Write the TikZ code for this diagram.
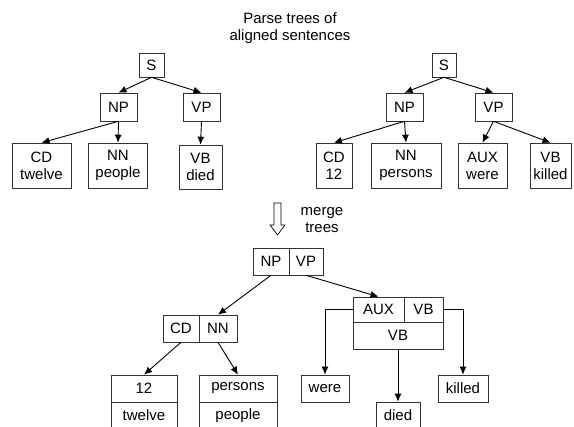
\documentclass[tikz,border=0pt]{standalone}
\usepackage{fontspec}
\setmainfont{Liberation Sans}
\usetikzlibrary{arrows.meta}
\tikzset{box/.style={draw=black!80, line width=0.6pt, inner sep=0pt, align=center, font=\fontsize{15}{17}\selectfont}}
\tikzset{label/.style={align=center, inner sep=0pt, font=\fontsize{15}{17}\selectfont}}

\begin{document}
\begin{tikzpicture}[x=1pt, y=-1pt, >={Latex[length=8pt,width=7pt]}, line width=0.9pt]
		\useasboundingbox (0,0) rectangle (574,427);
		\clip (0,0) rectangle (574,427);
		\node[label] (title) at (290,28) {Parse trees of\\aligned sentences};
		% first sentence
		\node[box, minimum width=25pt, minimum height=24pt] (S1) at (151.5,65) {S};
		\node[box, minimum width=37pt, minimum height=28pt] (NP1) at (118.5,107) {NP};
		\node[box, minimum width=37pt, minimum height=28pt] (VP1) at (201.5,107) {VP};
		\node[box, minimum width=59pt, minimum height=45pt] (CD1) at (41.5,165.5) {CD\\twelve};
		\node[box, minimum width=59pt, minimum height=45pt] (NN1) at (118,165.5) {NN\\people};
		\node[box, minimum width=43pt, minimum height=44pt] (VB1) at (200.5,167) {VB\\died};
		\path [->] (S1.south) edge (NP1.north);
		\path [->] (S1.south) edge (VP1.north);
		\path [->] (NP1.south) edge (CD1.north);
		\path [->] (NP1.south) edge (NN1.north);
		\path [->] (VP1.south) edge (VB1.north);
		% second sentence
		\node[box, minimum width=24pt, minimum height=24pt] (S2) at (444,65) {S};
		\node[box, minimum width=37pt, minimum height=28pt] (NP2) at (404.5,107) {NP};
		\node[box, minimum width=37pt, minimum height=28pt] (VP2) at (493.5,107) {VP};
		\node[box, minimum width=36pt, minimum height=45pt] (CD2) at (334,165.5) {CD\\12};
		\node[box, minimum width=70pt, minimum height=45pt] (NN2) at (406,165.5) {NN\\persons};
		\node[box, minimum width=49pt, minimum height=45pt] (AUX2) at (482.5,165.5) {AUX\\were};
		\node[box, minimum width=41pt, minimum height=45pt] (VB2) at (550.5,165.5) {VB\\killed};
		\path [->] (S2.south) edge (NP2.north);
		\path [->] (S2.south) edge (VP2.north);
		\path [->] (NP2.south) edge (CD2.north);
		\path [->] (NP2.south) edge (NN2.north);
		\path [->] (VP2.south) edge (AUX2.north);
		\path [->] (VP2.south) edge (VB2.north);
		% merge step
		\draw[line width=0.7pt] (274,203) -- (281,203) -- (281,225) -- (285,225) -- (277.5,235) -- (270,225) -- (274,225) -- cycle;
		\node[label] (merge) at (322,220) {merge\\trees};
		% merged tree
		\node[box, minimum width=36pt, minimum height=27pt] (NPm) at (271,261.5) {NP};
		\node[box, minimum width=34pt, minimum height=27pt] (VPm) at (306,261.5) {VP};
		\node[box, minimum width=36pt, minimum height=27pt] (CDm) at (181,328.5) {CD};
		\node[box, minimum width=38pt, minimum height=27pt] (NNm) at (218,328.5) {NN};
		\node[box, minimum width=51pt, minimum height=25pt] (AUXm) at (378.5,309.5) {AUX};
		\node[box, minimum width=39pt, minimum height=25pt] (VBm) at (423.5,309.5) {VB};
		\node[box, minimum width=90pt, minimum height=27pt] (VBd) at (398,335.5) {VB};
		\node[box, minimum width=66pt, minimum height=27pt] (n12) at (144,388.5) {12};
		\node[box, minimum width=66pt, minimum height=27pt] (twelve) at (144,415.5) {twelve};
		\node[box, minimum width=78pt, minimum height=27pt] (persons) at (238,388.5) {persons};
		\node[box, minimum width=78pt, minimum height=27pt] (people) at (238,415.5) {people};
		\node[box, minimum width=48pt, minimum height=27pt] (were) at (325,388.5) {were};
		\node[box, minimum width=44pt, minimum height=27pt] (died) at (398,415.5) {died};
		\node[box, minimum width=50pt, minimum height=27pt] (killed) at (463,388.5) {killed};
		\path [->] (NPm.south) edge (NNm.north);
		\path [->] (VPm.south) edge (AUXm.north);
		\path [->] (CDm.south) edge (n12.north);
		\path [->] (NNm.south) edge (persons.north);
		\draw [->] (AUXm.west) -| (were.north);
		\draw [->] (VBm.east) -| (killed.north);
		\path [->] (VBd.south) edge (died.north);
	\end{tikzpicture}
\end{document}
